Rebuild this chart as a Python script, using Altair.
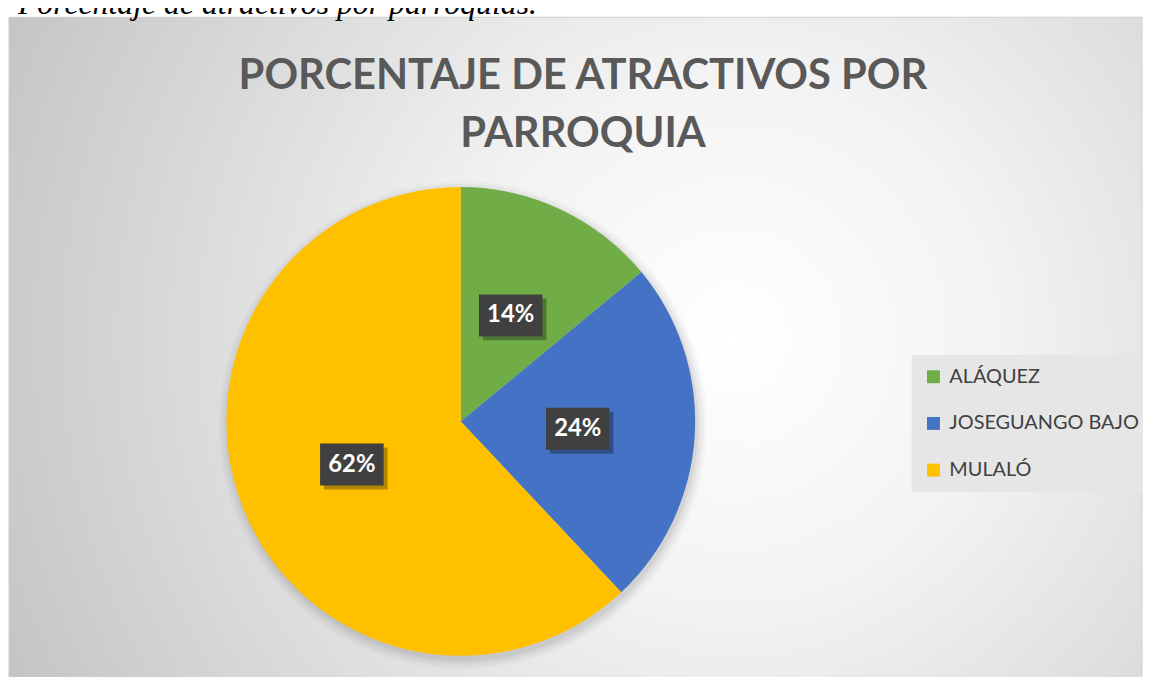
import altair as alt
import pandas as pd

# ---- data ----
CATEGORIES = ["ALÁQUEZ", "JOSEGUANGO BAJO", "MULALÓ"]
PERCENTS = [14, 24, 62]
ORDER = [0, 1, 2]
COLORS = ["#70AD47", "#4472C4", "#FFC000"]
TITLE_LINES = ["PORCENTAJE DE ATRACTIVOS POR", "PARROQUIA"]
CAPTION = "Porcentaje de atractivos por parroquias."

# ---- layout (chart pixels) ----
W, H = 1143, 669
CX, CY, R = 456, 414, 236

df = pd.DataFrame({"parroquia": CATEGORIES, "pct": PERCENTS, "orden": ORDER})
one = alt.Data(values=[{"k": 1}])

bg_fill = {
    "gradient": "radial",
    "x1": 0.64, "y1": 0.48, "r1": 0,
    "x2": 0.64, "y2": 0.48, "r2": 0.78,
    "stops": [
        {"offset": 0, "color": "#ffffff"},
        {"offset": 0.3, "color": "#f3f3f3"},
        {"offset": 1, "color": "#bdbdbd"},
    ],
}

bg = alt.Chart(one).mark_rect(fill=bg_fill, stroke="#cfcfcf", strokeWidth=1).encode(
    x=alt.value(1), x2=alt.value(W - 1), y=alt.value(7), y2=alt.value(H + 30)
)

caption = alt.Chart(one).mark_text(
    text=CAPTION, font="Liberation Serif", fontStyle="italic", fontSize=32,
    align="left", baseline="alphabetic", color="black"
).encode(x=alt.value(10), y=alt.value(3.5))

title = alt.Chart(one).mark_text(
    text=TITLE_LINES, font="Lato", fontWeight="bold", fontSize=42,
    color="#595959", lineHeight=59, align="center", baseline="alphabetic"
).encode(x=alt.value(579), y=alt.value(79))

shadows = []
for dr, op in [(1, 0.05), (4, 0.04), (7, 0.03), (10, 0.02)]:
    shadows.append(
        alt.Chart(one).mark_arc(radius=R + dr, theta=0, theta2=6.2832,
                                color="black", opacity=op)
        .encode(x=alt.value(CX + 2), y=alt.value(CY + 4))
    )

base = alt.Chart(df)

pie = base.mark_arc(radius=R).encode(
    theta=alt.Theta("pct:Q", stack=True),
    order=alt.Order("orden:Q"),
    color=alt.Color(
        "parroquia:N",
        scale=alt.Scale(domain=CATEGORIES, range=COLORS),
        legend=alt.Legend(
            title=None, orient="none", legendX=910, legendY=347,
            direction="vertical", symbolType="square", symbolSize=169,
            symbolStrokeWidth=0, labelFont="Lato", labelFontSize=20,
            labelColor="#404040", labelOffset=6, rowPadding=27, padding=12,
            labelLimit=400, fillColor="#e6e6e6",
        ),
    ),
    x=alt.value(CX), y=alt.value(CY),
)

lab = base.transform_joinaggregate(total="sum(pct)").transform_window(
    cum="sum(pct)", sort=[alt.SortField("orden")], frame=[None, 0]
).transform_calculate(
    mid="2*PI*(datum.cum - datum.pct/2)/datum.total",
    lx="0.5*sin(datum.mid)",
    ly="0.5*cos(datum.mid)",
    label="datum.pct + '%'",
)

xs = alt.X("lx:Q", scale=alt.Scale(domain=[-1, 1], range=[CX - R, CX + R]), axis=None)
ys = alt.Y("ly:Q", scale=alt.Scale(domain=[-1, 1], range=[CY + R, CY - R]), axis=None)

BOX = "M-1,-0.66L1,-0.66L1,0.66L-1,0.66Z"
box_shadow = lab.mark_point(shape=BOX, size=4096, filled=True, color="black",
                            opacity=0.3, strokeWidth=0, xOffset=4, yOffset=4).encode(x=xs, y=ys)
box = lab.mark_point(shape=BOX, size=4096, filled=True, color="#404040",
                     opacity=1, strokeWidth=0).encode(x=xs, y=ys)
txt = lab.mark_text(font="Lato", fontWeight="bold", fontSize=24, color="white",
                    align="center", baseline="middle").encode(x=xs, y=ys, text="label:N")

chart = alt.layer(bg, caption, title, *shadows, pie, box_shadow, box, txt).properties(
    width=W, height=H, autosize=alt.AutoSizeParams(type="none"), padding=0,
    background="white",
).configure_view(stroke=None)

chart.save("out.html", embed_options={"renderer": "svg", "actions": False})
